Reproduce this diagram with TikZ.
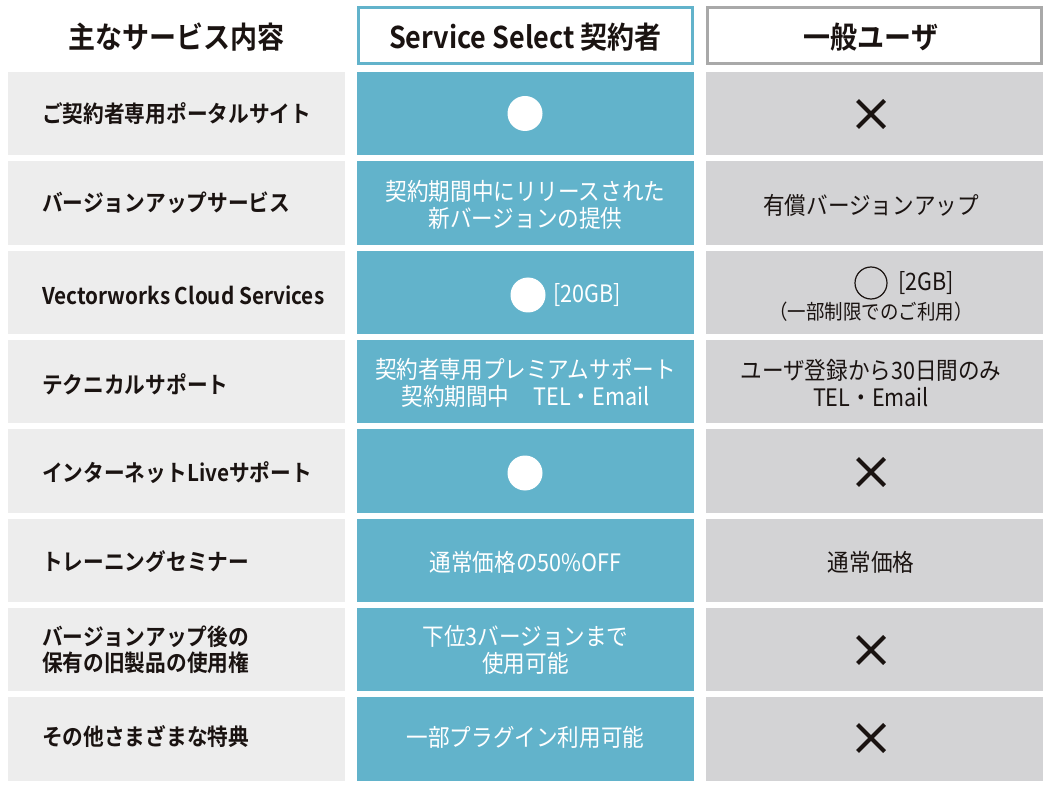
\documentclass[tikz,border=0pt]{standalone}
\usepackage{fontspec}
\setmainfont{Noto Sans CJK JP}[BoldFont={Noto Sans CJK JP Bold},FakeStretch=0.9]
\definecolor{cgA}{HTML}{EDEDED}
\definecolor{cbl}{HTML}{62B3CB}
\definecolor{cgC}{HTML}{D3D3D5}
\definecolor{cgB}{HTML}{A9A9A9}
\definecolor{ink}{HTML}{1A1311}
\begin{document}
\begin{tikzpicture}[x=1pt,y=-1pt,
  cell/.style={draw=none,minimum width=337pt,minimum height=83.5pt,inner sep=0pt},
  cellA/.style={cell,fill=cgA},
  cellB/.style={cell,fill=cbl},
  cellC/.style={cell,fill=cgC},
  lbl/.style={anchor=west,inner sep=0pt,align=left,text=ink,font=\bfseries\fontsize{23}{26}\selectfont},
  txtB/.style={inner sep=0pt,align=center,text=white,font=\fontsize{24}{26.5}\selectfont},
  txtC/.style={inner sep=0pt,align=center,text=ink,font=\fontsize{24}{26.5}\selectfont},
  hdr/.style={inner sep=0pt,text=ink,font=\bfseries\fontsize{30}{32}\selectfont},
  dot/.style={circle,fill=white,minimum size=35pt,inner sep=0pt},
  ring/.style={circle,draw=ink,line width=1.2pt,minimum size=32pt,inner sep=0pt},
  xmark/.style={line width=4pt,draw=ink}]
\useasboundingbox (0,0) rectangle (1050,786);
\fill[white] (0,0) rectangle (1050,786);
% headers
\node[hdr] (h1) at (176.5,37) {主なサービス内容};
\draw[cbl,line width=3pt] (358.5,7.5) rectangle (692.5,63.5);
\node[hdr] (h2) at (525.5,37) {Service Select 契約者};
\draw[cgB,line width=3pt] (707.5,7.5) rectangle (1041.5,63.5);
\node[hdr] (h3) at (871,37) {一般ユーザ};
% rows
\foreach \i/\y in {1/113.75,2/203.05,3/292.35,4/381.65,5/470.95,6/560.25,7/649.55,8/738.85}{
  \node[cellA] (a\i) at (176.5,\y) {};
  \node[cellB] (b\i) at (525.5,\y) {};
  \node[cellC] (c\i) at (874.5,\y) {};
}
% column 1 labels
\node[lbl] (l1) at (42,113.75) {ご契約者専用ポータルサイト};
\node[lbl] (l2) at (42,203.05) {バージョンアップサービス};
\node[lbl] (l3) at (42,295) {Vectorworks Cloud Services};
\node[lbl] (l4) at (42,384) {テクニカルサポート};
\node[lbl] (l5) at (42,473) {インターネットLiveサポート};
\node[lbl] (l6) at (42,562) {トレーニングセミナー};
\node[lbl] (l7) at (42,650) {バージョンアップ後の\\保有の旧製品の使用権};
\node[lbl] (l8) at (42,737) {その他さまざまな特典};
% column 2
\node[dot] (d1) at (525,113.5) {};
\node[txtB] (t2) at (525.5,205) {契約期間中にリリースされた\\新バージョンの提供};
\node[dot] (d3) at (528,295) {};
\node[txtB,anchor=west] (t3) at (553,295) {[20GB]};
\node[txtB] (t4) at (525.5,383) {契約者専用プレミアムサポート\\契約期間中\quad TEL・Email};
\node[dot] (d5) at (525,473) {};
\node[txtB] (t6) at (525.5,562) {通常価格の50\%OFF};
\node[txtB] (t7) at (525.5,650) {下位3バージョンまで\\使用可能};
\node[txtB] (t8) at (525.5,737) {一部プラグイン利用可能};
% column 3
\coordinate (x1) at (871,114);
\coordinate (x5) at (871,472);
\coordinate (x7) at (871,650);
\coordinate (x8) at (871,738);
\foreach \k in {x1,x5,x7,x8}{
  \draw[xmark] ([shift={(-13.5,-13.5)}]\k) -- ([shift={(13.5,13.5)}]\k);
  \draw[xmark] ([shift={(13.5,-13.5)}]\k) -- ([shift={(-13.5,13.5)}]\k);
}
\node[txtC] (u2) at (871,205) {有償バージョンアップ};
\node[ring] (r3) at (871,283) {};
\node[txtC,anchor=west] (u3) at (898,283) {[2GB]};
\node[txtC,font=\fontsize{20.5}{22}\selectfont] (u3b) at (871,312) {（一部制限でのご利用）};
\node[txtC] (u4) at (871,383) {ユーザ登録から30日間のみ\\TEL・Email};
\node[txtC] (u6) at (871,562) {通常価格};
\end{tikzpicture}
\end{document}
